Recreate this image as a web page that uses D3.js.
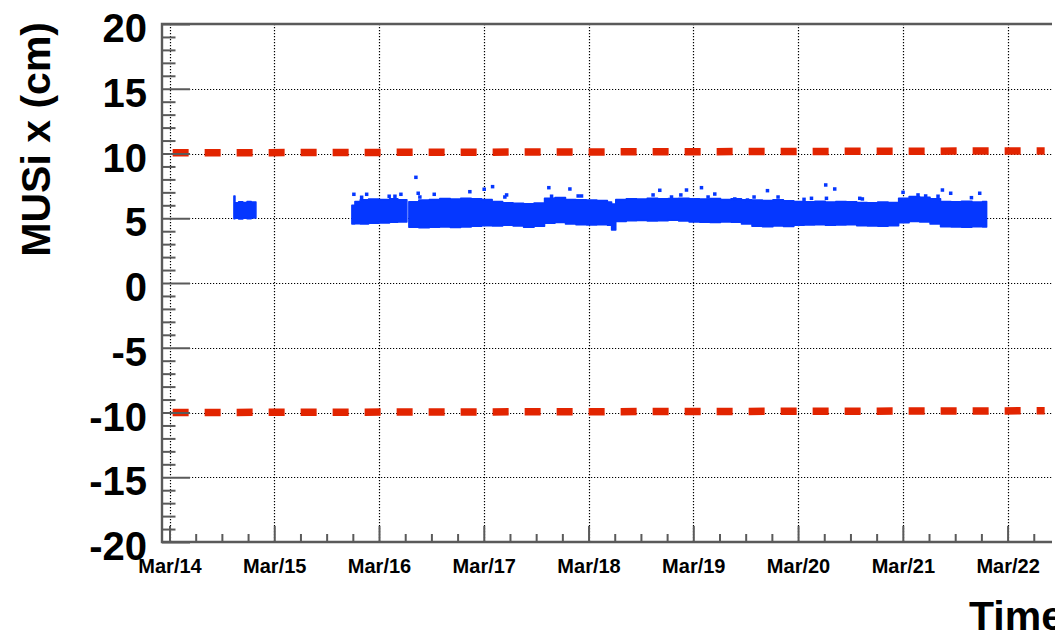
<!DOCTYPE html>
<html>
<head>
<meta charset="utf-8">
<script src="https://cdn.jsdelivr.net/npm/d3@7"></script>
<style>
  body { margin: 0; background: #fff; }
  svg { display: block; font-family: "Liberation Sans", Arial, Helvetica, sans-serif; font-weight: bold; }
</style>
</head>
<body>
<svg id="chart" width="1055" height="636"></svg>
<script>
// time is in days since Mar/14 00:00
const dayTicks = [0, 1, 2, 3, 4, 5, 6, 7, 8];
const dayLabels = ["Mar/14", "Mar/15", "Mar/16", "Mar/17", "Mar/18", "Mar/19", "Mar/20", "Mar/21", "Mar/22"];
const yTickValues = [-20, -15, -10, -5, 0, 5, 10, 15, 20];
const yTickLabels = ["-20", "-15", "-10", "-5", "0", "5", "10", "15", "20"];

// blue band of MUSi x readings, one row per step (min / max of the cloud)
const run1T  = [0.615, 0.625, 0.66, 0.70, 0.74, 0.78, 0.825];
const run1Lo = [4.97, 5.00, 4.95, 5.00, 4.97, 5.02, 5.02];
const run1Hi = [6.72, 6.20, 6.28, 6.22, 6.30, 6.25, 6.25];

const run2T  = [1.741, 1.77, 1.82, 1.90, 2.00, 2.10, 2.18, 2.266];
const run2Lo = [4.55, 4.58, 4.55, 4.62, 4.63, 4.70, 4.72, 4.72];
const run2Hi = [6.00, 6.30, 6.42, 6.48, 6.45, 6.50, 6.42, 6.42];

const run3T  = [2.285, 2.38, 2.48, 2.58, 2.68, 2.78, 2.88, 2.98, 3.08, 3.18, 3.28, 3.38, 3.48, 3.58, 3.68, 3.78, 3.88, 3.98,
                4.08, 4.18, 4.22, 4.26, 4.36, 4.46, 4.56, 4.66, 4.76, 4.86, 4.96, 5.06, 5.16, 5.26, 5.36, 5.46, 5.56, 5.66,
                5.76, 5.86, 5.96, 6.06, 6.16, 6.26, 6.36, 6.46, 6.56, 6.66, 6.76, 6.86, 6.96, 7.06, 7.16, 7.26, 7.36, 7.46,
                7.56, 7.66, 7.76, 7.80];
const run3Lo = [4.30, 4.27, 4.30, 4.33, 4.28, 4.32, 4.38, 4.42, 4.40, 4.45, 4.40, 4.30, 4.38, 4.62, 4.68, 4.55, 4.50, 4.47,
                4.50, 4.45, 4.10, 4.75, 4.80, 4.82, 4.78, 4.80, 4.85, 4.78, 4.72, 4.70, 4.68, 4.72, 4.70, 4.55, 4.38, 4.35,
                4.40, 4.36, 4.45, 4.48, 4.50, 4.45, 4.48, 4.50, 4.42, 4.40, 4.38, 4.42, 4.65, 4.75, 4.72, 4.55, 4.35, 4.32,
                4.30, 4.35, 4.32, 4.32];
const run3Hi = [6.28, 6.40, 6.45, 6.52, 6.48, 6.55, 6.50, 6.45, 6.30, 6.20, 6.15, 6.12, 6.18, 6.55, 6.60, 6.45, 6.42, 6.40,
                6.38, 6.25, 6.10, 6.45, 6.50, 6.48, 6.55, 6.50, 6.52, 6.55, 6.50, 6.48, 6.52, 6.45, 6.50, 6.42, 6.40, 6.38,
                6.42, 6.35, 6.30, 6.28, 6.32, 6.25, 6.30, 6.27, 6.22, 6.20, 6.25, 6.22, 6.55, 6.68, 6.62, 6.50, 6.30, 6.28,
                6.32, 6.25, 6.30, 6.30];

// isolated points above the band
const outT = [1.760, 1.834, 1.882, 2.097, 2.152, 2.209, 2.352, 2.374, 2.390, 2.527, 2.867, 3.004, 3.084, 3.201, 3.218,
              3.621, 3.647, 3.822, 3.901, 3.933, 4.616, 4.680, 4.792, 4.881, 4.935, 5.078, 5.141, 5.205, 5.396, 5.517,
              5.580, 5.708, 5.809, 6.057, 6.128, 6.264, 6.350, 6.271, 6.589, 6.614, 7.002, 7.145, 7.218, 7.336, 7.378,
              7.457, 7.655, 7.734];
const outV = [6.85, 6.62, 6.85, 6.70, 6.70, 6.85, 8.16, 6.93, 6.64, 6.85, 7.05, 7.24, 7.44, 6.64, 6.80,
              7.36, 6.70, 7.26, 6.72, 6.72, 6.80, 7.16, 6.64, 6.80, 7.18, 7.36, 6.64, 6.87, 6.49, 6.41,
              6.64, 7.13, 6.64, 6.46, 6.54, 7.57, 7.26, 6.54, 6.54, 6.49, 7.00, 6.80, 6.72, 6.70, 7.18,
              6.93, 6.59, 6.93];

// red limit lines
const limitT = [0.03, 8.354];
const upperLimit = [10.05, 10.20];
const lowerLimit = [-10.00, -9.87];

const svg = d3.select('#chart');
const frameLeft = 162, frameRight = 1052, frameTop = 24, frameBottom = 542;
const axisColor = '#5a5a5a';
const blue = '#0537ff';

const x = d3.scaleLinear().domain([-0.0716, 8.424]).range([frameLeft, frameRight]);
const y = d3.scaleLinear().domain([-20, 20]).range([frameBottom, frameTop]);

// grid
const grid = svg.append('g');
grid.selectAll('line.vg').data(dayTicks).join('line')
    .attr('x1', d => Math.round(x(d)) + 0.5).attr('x2', d => Math.round(x(d)) + 0.5)
    .attr('y1', frameTop).attr('y2', frameBottom)
    .attr('stroke', '#000').attr('stroke-width', 1.2).attr('stroke-dasharray', '1.2,1.8');
grid.selectAll('line.hg').data(yTickValues.filter(v => v > -20 && v < 20)).join('line')
    .attr('x1', frameLeft).attr('x2', frameRight)
    .attr('y1', d => Math.round(y(d)) + 0.5).attr('y2', d => Math.round(y(d)) + 0.5)
    .attr('stroke', '#000').attr('stroke-width', 1.2).attr('stroke-dasharray', '1.2,1.8');

// data band
const band = d3.area()
    .x(d => x(d.t)).y0(d => y(d.lo)).y1(d => y(d.hi))
    .curve(d3.curveStepAfter);
const runs = [[run1T, run1Lo, run1Hi], [run2T, run2Lo, run2Hi], [run3T, run3Lo, run3Hi]]
    .map(([t, lo, hi]) => t.map((tt, i) => ({t: tt, lo: lo[i], hi: hi[i]})));
svg.append('g').selectAll('path').data(runs).join('path')
    .attr('d', band)
    .attr('fill', blue).attr('stroke', blue).attr('stroke-width', 1.5)
    .attr('stroke-linejoin', 'round');

svg.append('g').selectAll('rect').data(outT.map((t, i) => ({t: t, v: outV[i]}))).join('rect')
    .attr('x', d => x(d.t) - 1.75).attr('y', d => y(d.v) - 1.75)
    .attr('width', 3.5).attr('height', 3.5)
    .attr('fill', blue);

// limit lines
const limitLine = d3.line().x(d => x(d.t)).y(d => y(d.v));
[upperLimit, lowerLimit].forEach(lim => {
    svg.append('path')
        .datum(limitT.map((t, i) => ({t: t, v: lim[i]})))
        .attr('d', limitLine)
        .attr('fill', 'none').attr('stroke', '#e22400')
        .attr('stroke-width', 7.5).attr('stroke-dasharray', '16,16');
});

// frame
svg.append('path')
    .attr('d', `M${frameRight},${frameTop}H${frameLeft}V${frameBottom}H${frameRight}`)
    .attr('fill', 'none').attr('stroke', axisColor).attr('stroke-width', 2.4);

// y axis
const yAxis = d3.axisLeft(y).tickValues(yTickValues).tickFormat((d, i) => yTickLabels[i])
    .tickSizeInner(-28).tickSizeOuter(0).tickPadding(15);
const yMinor = d3.axisLeft(y).tickValues(d3.range(-19, 20).filter(v => v % 5 !== 0))
    .tickSizeInner(-13.5).tickSizeOuter(0).tickFormat('');
const gyMinor = svg.append('g').attr('transform', `translate(${frameLeft},0)`).call(yMinor);
const gy = svg.append('g').attr('transform', `translate(${frameLeft},0)`).call(yAxis);
[gy, gyMinor].forEach(g => {
    g.select('.domain').remove();
    g.selectAll('line').attr('stroke', axisColor).attr('stroke-width', 2);
});
gy.selectAll('text')
    .attr('dy', null).attr('y', 17.5)
    .attr('font-size', 40).attr('font-family', '"Liberation Sans", Arial, sans-serif')
    .attr('font-weight', 'bold').attr('fill', '#000');

// x axis
const xAxis = d3.axisBottom(x).tickValues(dayTicks).tickFormat((d, i) => dayLabels[i])
    .tickSizeInner(-16).tickSizeOuter(0);
const xMinor = d3.axisBottom(x).tickValues(d3.range(0.25, 8.4, 0.25).filter(v => v % 1 !== 0))
    .tickSizeInner(-8).tickSizeOuter(0).tickFormat('');
const gxMinor = svg.append('g').attr('transform', `translate(0,${frameBottom})`).call(xMinor);
const gx = svg.append('g').attr('transform', `translate(0,${frameBottom})`).call(xAxis);
[gx, gxMinor].forEach(g => {
    g.select('.domain').remove();
    g.selectAll('line').attr('stroke', axisColor).attr('stroke-width', 2);
});
gx.selectAll('text')
    .attr('dy', null).attr('y', 30.5)
    .attr('font-size', 20).attr('font-family', '"Liberation Sans", Arial, sans-serif')
    .attr('font-weight', 'bold').attr('fill', '#000');

// titles
svg.append('text')
    .attr('transform', 'translate(50,22) rotate(-90)')
    .attr('text-anchor', 'end')
    .attr('font-size', 41)
    .text('MUSi x (cm)');
svg.append('text')
    .attr('x', 969).attr('y', 630)
    .attr('font-size', 41)
    .text('Time');
</script>
</body>
</html>
